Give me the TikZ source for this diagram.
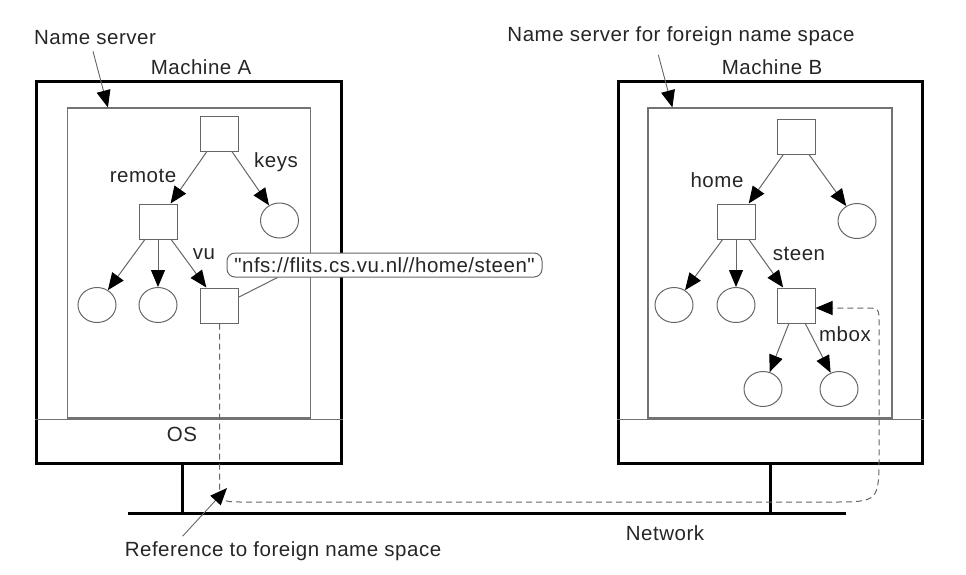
\documentclass[tikz,border=0pt]{standalone}
\usepackage{fontspec}
\setmainfont{Liberation Sans}[Ligatures=TeXOff,LetterSpace=2.5]
\usetikzlibrary{arrows.meta,shapes.geometric,calc}
\begin{document}
\begin{tikzpicture}[x=1pt,y=-1pt,
  txt/.style={font=\fontsize{20.5}{22}\selectfont, text=black!85, inner sep=0pt},
  sq/.style={draw=black!60, line width=1pt, minimum width=38pt, minimum height=35pt, inner sep=0pt},
  leaf/.style={ellipse, draw=black!60, line width=1pt, minimum width=38pt, minimum height=35pt, inner sep=0pt},
  tip/.style={-{Triangle[length=17pt,width=14pt,black]}},
  edge/.style={draw=black!60, line width=1pt, tip},
  ptr/.style={draw=black!60, line width=0.9pt, tip},
  outerbox/.style={draw=black, line width=3pt, minimum width=305pt, minimum height=382pt, inner sep=0pt},
  innerbox/.style={draw=black!55, line width=1.2pt, minimum width=243pt, minimum height=310pt, inner sep=0pt},
  thin/.style={draw=black!55, line width=1.2pt},
  net/.style={draw=black, line width=3pt},
  refpath/.style={draw=black!60, line width=1pt, dash pattern=on 6pt off 4pt, tip}
]
\useasboundingbox (0,0) rectangle (966,574);

% machines
\node[outerbox] (outA) at (188.5,272) {};
\node[innerbox] (innerA) at (189,263) {};
\draw[thin] ($(outA.south west)+(0,-45)$) -- ($(outA.south east)+(0,-45)$);
\node[outerbox, minimum width=304pt] (outB) at (770,272) {};
\node[innerbox, minimum width=244pt] (innerB) at (770,263) {};
\draw[thin] ($(outB.south west)+(0,-45)$) -- ($(outB.south east)+(0,-45)$);

% titles
\node[txt] (ns) at (95,38) {Name server};
\node[txt] (maA) at (201,67) {Machine A};
\node[txt] (nsf) at (681,36) {Name server for foreign name space};
\node[txt] (maB) at (772,67) {Machine B};
\node[txt] (os) at (182,434) {OS};
\node[txt] (netlbl) at (665,533) {Network};
\node[txt] (ref) at (283,551) {Reference to foreign name space};

\draw[ptr] ($(ns.south)+(-2,6)$) -- ($(innerA.north west)+(41,0)$);
\draw[ptr] ($(nsf.south west)+(151,9)$) -- ($(innerB.north west)+(25,0)$);

% network
\coordinate (netL) at (128,513);
\coordinate (netR) at (846,513);
\draw[net] (netL) -- (netR);
\coordinate (stubA) at ($(outA.south west)+(148,0)$);
\draw[net] (stubA) -- (stubA |- netL);
\draw[net] (outB.south) -- (outB.south |- netL);

% tree A
\node[sq] (rootA) at (219.5,133.5) {};
\node[sq] (remA) at (158,221.5) {};
\node[leaf] (keysA) at (279.5,220.5) {};
\node[leaf] (a1) at (97,305) {};
\node[leaf] (a2) at (158,305) {};
\node[sq] (vuA) at (219.5,305.5) {};
\draw[edge] (rootA) -- (remA);
\draw[edge] (rootA) -- (keysA);
\draw[edge] (remA) -- (a1);
\draw[edge] (remA) -- (a2);
\draw[edge] (remA) -- (vuA);
\node[txt] at (143,176) {remote};
\node[txt] at (276,162) {keys};
\node[txt] at (204,254) {vu};

% callout
\node[txt, draw=black!60, line width=1pt, rounded corners=8pt, minimum width=315pt, minimum height=24pt, fill=white] (call) at (384.5,265) {"nfs://flits.cs.vu.nl//home/steen"};
\draw[draw=black!60, line width=1pt] ($(call.south west)+(51,0)$) -- ($(vuA.east)+(0,-8.5)$);

% tree B
\node[sq] (rootB) at (796,136.5) {};
\node[sq] (homeB) at (736,221.5) {};
\node[leaf] (rcB) at (857,221) {};
\node[leaf] (b1) at (674,305) {};
\node[leaf] (b2) at (736,305) {};
\node[sq] (steenB) at (796,305.5) {};
\node[leaf] (m1) at (763,389) {};
\node[leaf] (m2) at (839,389) {};
\draw[edge] (rootB) -- (homeB);
\draw[edge] (rootB) -- (rcB);
\draw[edge] (homeB) -- (b1);
\draw[edge] (homeB) -- (b2);
\draw[edge] (homeB) -- (steenB);
\draw[edge] (steenB) -- (m1);
\draw[edge] (steenB) -- (m2);
\node[txt] at (717,180) {home};
\node[txt] at (799,254) {steen};
\node[txt] at (845,334) {mbox};

% dashed reference path
\draw[refpath] (vuA.south) -- (219.5,477) .. controls (219.5,502) .. (244.5,502)
  -- (831,502) .. controls (879,502) .. (879,454) -- (879,323)
  .. controls (879,308) .. (864,308) -- ($(steenB.east)+(0,2.5)$);
\coordinate (refTip) at (227,488);
\draw[ptr] ($(ref.north west)+(58,-5)$) -- (refTip);
\end{tikzpicture}
\end{document}
